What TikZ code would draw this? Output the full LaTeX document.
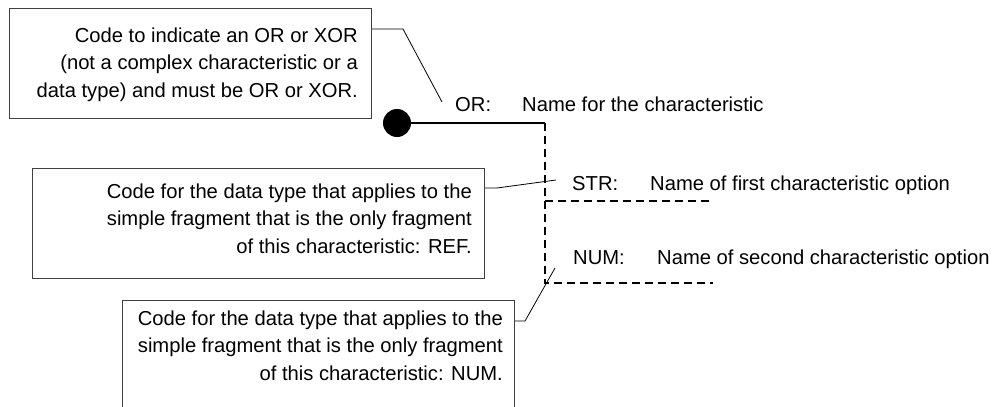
\documentclass[tikz,border=0pt]{standalone}
\usepackage{fontspec}
\setmainfont{Liberation Sans}
\begin{document}
\begin{tikzpicture}[x=1pt,y=-1pt,
  every node/.style={font=\fontsize{20.2}{27.7}\selectfont, inner sep=0pt, text=black},
  box/.style={draw=black!75, line width=1pt, anchor=north west, rectangle},
  txt/.style={align=right, anchor=base east},
  lbl/.style={anchor=base west},
  thin/.style={line width=0.8pt},
  dashline/.style={line width=1.8pt, dash pattern=on 8pt off 5pt}]
\useasboundingbox (0,0) rectangle (997,407);
\clip (0,0) rectangle (997,407);
% boxes
\node[box, minimum width=362pt, minimum height=110pt] (b1) at (9,8) {};
\node[box, minimum width=452pt, minimum height=110pt] (b2) at (32,168) {};
\node[box, minimum width=392pt, minimum height=130pt] (b3) at (122,300) {};
% box texts (anchor = baseline of last line)
\node[txt] (t1) at (358,97.5) {Code to indicate an OR or XOR\\(not a complex characteristic or a\\data type) and must be OR or XOR.};
\node[txt] (t2) at (472,253.5) {Code for the data type that applies to the\\simple fragment that is the only fragment\\of this characteristic: REF.};
\node[txt] (t3) at (503,380.5) {Code for the data type that applies to the\\simple fragment that is the only fragment\\of this characteristic: NUM.};
% labels
\node[lbl] (or) at (455,111) {OR:};
\node[lbl] (orn) at (522,111) {Name for the characteristic};
\node[lbl] (str) at (572,190) {STR:};
\node[lbl] (strn) at (650,190) {Name of first characteristic option};
\node[lbl] (num) at (573,264) {NUM:};
\node[lbl] (numn) at (657,264) {Name of second characteristic option};
% dot and tree
\node[circle, fill=black, minimum size=28pt] (dot) at (397,123) {};
\coordinate (corner) at (545,123);
\coordinate (mid) at (545,201);
\coordinate (bot) at (545,283);
\coordinate (midend) at (713,201);
\coordinate (botend) at (713,283);
\draw[line width=1.8pt] (dot.center) -- (corner);
\draw[dashline] (corner) -- (bot) -- (botend);
\draw[dashline] (mid) -- (midend);
% connectors
\coordinate (e1) at (442,102);
\coordinate (e2) at (556,180);
\coordinate (e3) at (555,268);
\draw[thin] (b1.east |- 0,29) -- (403,29) -- (e1);
\draw[thin] (b2.east |- 0,188) -- (497,188) -- (e2);
\draw[thin] (b3.east |- 0,321) -- (525,321) -- (e3);
\end{tikzpicture}
\end{document}
